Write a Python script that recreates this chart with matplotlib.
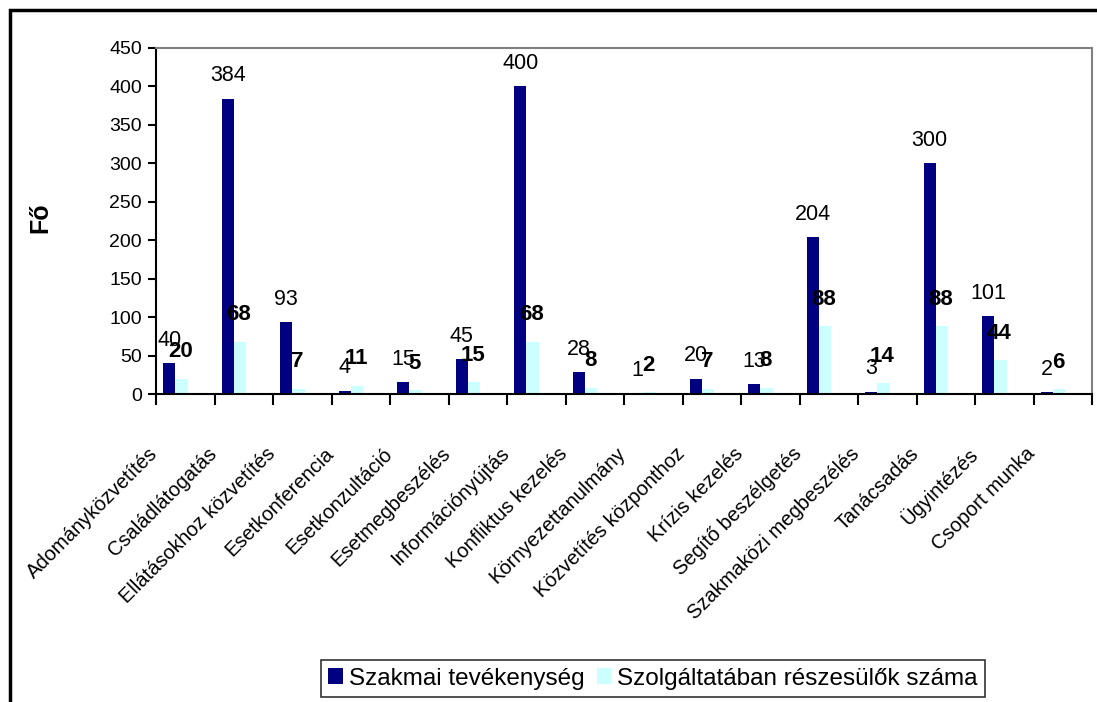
import numpy as np
import matplotlib
matplotlib.use("Agg")
import matplotlib.pyplot as plt
from matplotlib.patches import Rectangle, Patch

plt.rcParams['font.family'] = ['Liberation Sans', 'DejaVu Sans']

# adatok
kategoriak = ["Adományközvetítés", "Családlátogatás", "Ellátásokhoz közvetítés",
              "Esetkonferencia", "Esetkonzultáció", "Esetmegbeszélés",
              "Információnyújtás", "Konfliktus kezelés", "Környezettanulmány",
              "Közvetítés központhoz", "Krízis kezelés", "Segítő beszélgetés",
              "Szakmaközi megbeszélés", "Tanácsadás", "Ügyintézés", "Csoport munka"]
szakmai = [40, 384, 93, 4, 15, 45, 400, 28, 1, 20, 13, 204, 3, 300, 101, 2]
reszesulok = [20, 68, 7, 11, 5, 15, 68, 8, 2, 7, 8, 88, 14, 88, 44, 6]

navy = "#000080"
cyan = "#CCFFFF"

W, H = 1097, 702
fig = plt.figure(figsize=(W / 100, H / 100), dpi=100)
ax = fig.add_axes([156 / W, 1 - 394 / H, (1092 - 156) / W, (394 - 48) / H])

x = np.arange(len(kategoriak))
bw = 0.21
x1 = x - 0.275
x2 = x1 + bw
ax.bar(x1, szakmai, width=bw, color=navy, label="Szakmai tevékenység")
ax.bar(x2, reszesulok, width=bw, color=cyan, label="Szolgáltatában részesülők száma")

# ertekcimkek
for xi, v in zip(x1, szakmai):
    ax.annotate(str(v), (xi, v), xytext=(0, 23), textcoords="offset pixels",
                ha="center", va="center", fontsize=15.5)
for xi, v in zip(x2, reszesulok):
    ax.annotate(str(v), (xi, v), xytext=(-1, 27), textcoords="offset pixels",
                ha="center", va="center", fontsize=16, fontweight="bold")

ax.set_xlim(-0.5, len(kategoriak) - 0.5)
ax.set_ylim(0, 450)
ax.set_yticks(np.arange(0, 451, 50))
ax.set_xticks(np.arange(len(kategoriak) + 1) - 0.5)
ax.set_xticklabels([])
ax.tick_params(axis="x", direction="out", length=8, width=1.5)
ax.tick_params(axis="y", direction="out", length=6, width=1.5, labelsize=14, pad=4)

# kategoria feliratok
for xi, k in zip(x, kategoriak):
    ax.annotate(k, (xi, 0), xytext=(-37, -50), textcoords="offset pixels",
                rotation=45, ha="right", va="top", rotation_mode="anchor",
                fontsize=14.5, annotation_clip=False)

for s in ["left", "bottom"]:
    ax.spines[s].set_linewidth(1.5)
    ax.spines[s].set_color("black")
for s in ["top", "right"]:
    ax.spines[s].set_linewidth(1.5)
    ax.spines[s].set_color("#808080")

fig.text(40 / W, 1 - 218 / H, "Fő", rotation=90, ha="center", va="center",
         fontsize=18, fontweight="bold")

# keret
fig.patches.append(Rectangle((10 / W, -0.05), 1.1, 1.05 - 10 / H, transform=fig.transFigure,
                             fill=False, edgecolor="black", linewidth=2.5))

handles = [Patch(facecolor=navy, label="Szakmai tevékenység"),
           Patch(facecolor=cyan, label="Szolgáltatában részesülők száma")]
leg = fig.legend(handles=handles, loc="center", bbox_to_anchor=(653 / W, 1 - 678.5 / H),
                 ncol=2, fontsize=17.5, frameon=True, fancybox=False, shadow=False,
                 handlelength=0.6, handleheight=0.6, handletextpad=0.25,
                 columnspacing=0.5, borderpad=0.3, borderaxespad=0)
leg.get_frame().set_edgecolor("black")
leg.get_frame().set_linewidth(1.2)

fig.savefig("out.png", dpi=100)
